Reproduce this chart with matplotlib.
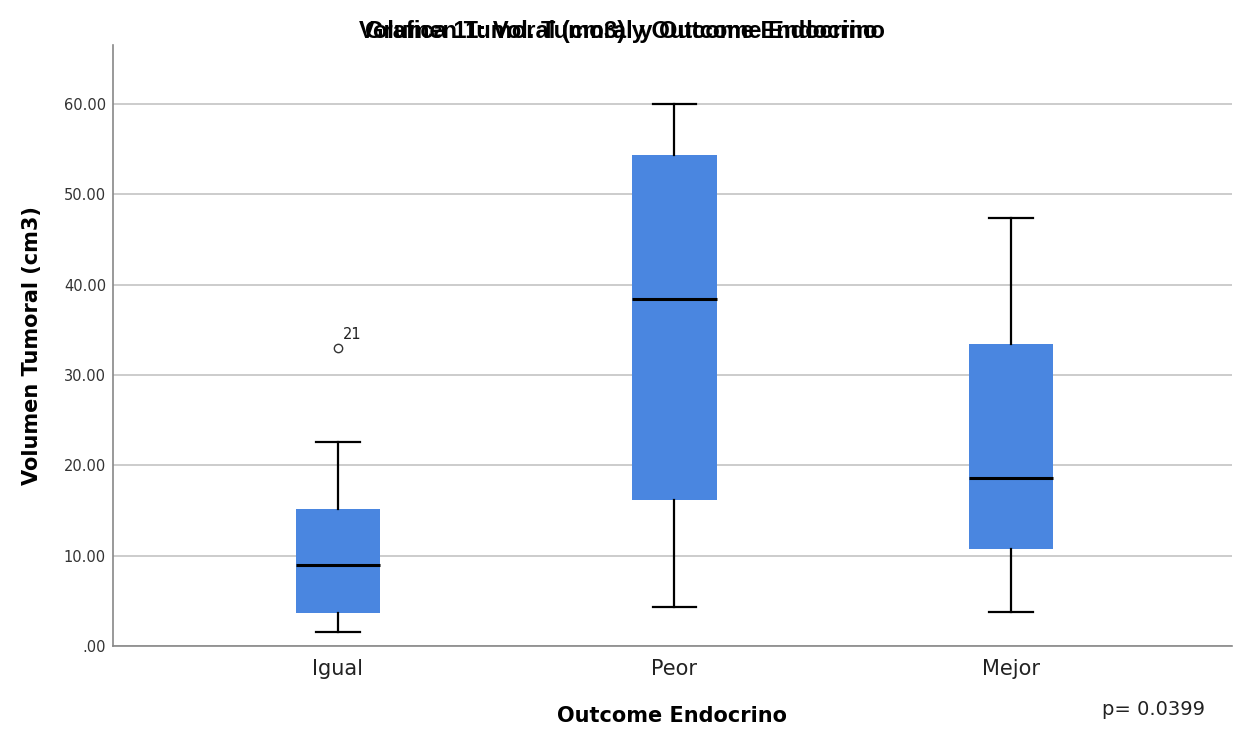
import matplotlib.pyplot as plt

categories = ["Igual", "Peor", "Mejor"]
whisker_low = [1.55, 4.3, 3.8]
q1 = [3.65, 16.2, 10.7]
median = [9.0, 38.4, 18.6]
q3 = [15.2, 54.3, 33.4]
whisker_high = [22.6, 60.0, 47.4]
outliers = [[33.0], [], []]
outlier_labels = [["21"], [], []]
y_ticks = [0, 10, 20, 30, 40, 50, 60]
y_tick_labels = [".00", "10.00", "20.00", "30.00", "40.00", "50.00", "60.00"]

stats = []
for i, name in enumerate(categories):
    stats.append(dict(label=name, whislo=whisker_low[i], q1=q1[i], med=median[i],
                      q3=q3[i], whishi=whisker_high[i], fliers=outliers[i]))

fig = plt.figure(figsize=(12.44, 7.44), dpi=100)
ax = fig.add_axes([0.0908, 0.1317, 0.8995, 0.8078])

box_color = "#4a86e0"
ax.bxp(stats, positions=[0, 1, 2], widths=0.25, patch_artist=True,
       boxprops=dict(facecolor=box_color, edgecolor=box_color, linewidth=0),
       medianprops=dict(color="black", linewidth=2.2),
       whiskerprops=dict(color="black", linewidth=1.6),
       capprops=dict(color="black", linewidth=1.6),
       capwidths=0.13,
       flierprops=dict(marker="o", markersize=6, markerfacecolor="white",
                       markeredgecolor="#333333", markeredgewidth=1.0),
       zorder=3)

# Outlier case labels
for i, (vals, labs) in enumerate(zip(outliers, outlier_labels)):
    for v, lab in zip(vals, labs):
        ax.annotate(lab, (i, v), xytext=(4, 6), textcoords="offset points",
                    fontsize=10.5, color="#222222")

ax.set_xlim(-0.667, 2.655)
ax.set_ylim(0, 66.5)
ax.set_yticks(y_ticks)
ax.set_yticklabels(y_tick_labels, fontsize=10.5, color="#333333")
ax.set_xticks([0, 1, 2])
ax.set_xticklabels(categories, fontsize=15, color="#222222")
ax.tick_params(axis="x", length=0, pad=9)
ax.tick_params(axis="y", length=0, pad=5)
ax.grid(axis="y", color="#c4c4c4", linewidth=1.2, zorder=0)
ax.set_axisbelow(True)
for side in ["top", "right"]:
    ax.spines[side].set_visible(False)
for side in ["left", "bottom"]:
    ax.spines[side].set_color("#888888")
    ax.spines[side].set_linewidth(1.2)

ax.set_ylabel("Volumen Tumoral (cm3)", fontsize=15, fontweight="bold", labelpad=16)
ax.set_xlabel("Outcome Endocrino", fontsize=15, fontweight="bold", labelpad=20)

# Two overlapping titles, as in the original
fig.text(0.497, 0.958, "Volumen Tumoral (cm3) y Outcome Endocrino", ha="center",
         va="center", fontsize=17, fontweight="bold", family="Liberation Sans")
fig.text(0.502, 0.958, "Grafica 11: Vol. Tumoral y Outcome Endocrino", ha="center",
         va="center", fontsize=17, fontweight="bold", family="Liberation Sans")
fig.text(0.927, 0.046, "p= 0.0399", ha="center", va="center", fontsize=14,
         color="#222222")

fig.savefig("out.png", dpi=100, facecolor="white")
